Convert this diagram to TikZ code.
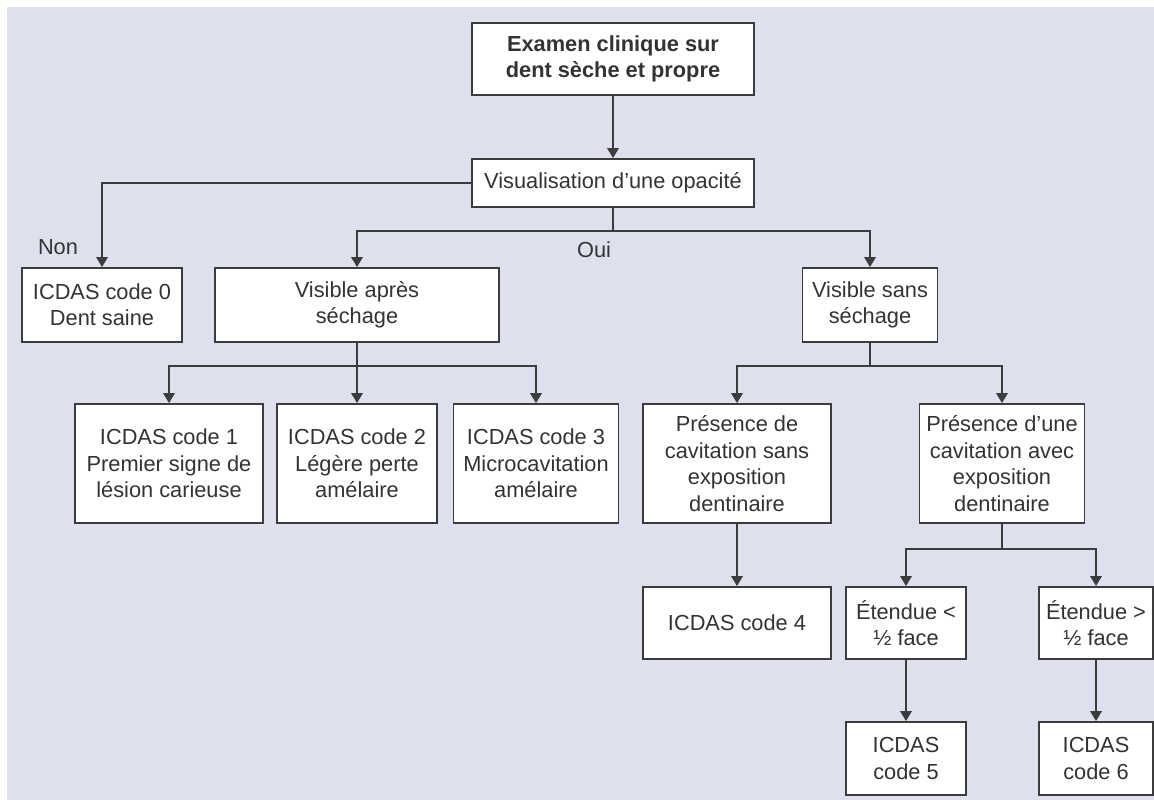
\documentclass[tikz,border=0pt]{standalone}
\usepackage{fontspec}
\setmainfont{Liberation Sans}
\usetikzlibrary{arrows.meta}
\definecolor{bgcol}{HTML}{DEE0ED}
\definecolor{linecol}{HTML}{3C3C3C}
\definecolor{txtcol}{HTML}{333333}

\begin{document}
\begin{tikzpicture}[line width=1.4pt, color=linecol,
  every node/.style={font=\fontsize{15.5}{18.8}\selectfont, text=txtcol},
  box/.style={draw=linecol, line width=1.3pt, fill=white, align=center, inner sep=1pt},
  arr/.style={-{Triangle[width=8pt,length=7pt]}}]
  \useasboundingbox (0,0) rectangle (28.85,20);
  \fill[bgcol] (0.175,0) rectangle (28.85,19.825);

  \node[box, font=\fontsize{15.5}{18.8}\selectfont\bfseries, minimum width=7.05cm, minimum height=1.8cm] (exam) at (15.325,18.525) {Examen clinique sur\\dent sèche et propre};
  \node[box, minimum width=7.05cm, minimum height=1.2cm] (opac) at (15.325,15.425) {Visualisation d’une opacité};
  \node[box, minimum width=4cm, minimum height=1.85cm] (c0) at (2.55,12.375) {ICDAS code 0\\Dent saine};
  \node[box, minimum width=7.1cm, minimum height=1.85cm] (apres) at (8.925,12.375) {Visible après\\séchage};
  \node[box, minimum width=3.375cm, minimum height=1.85cm] (sans) at (21.75,12.375) {Visible sans\\séchage};
  \node[box, minimum width=4.7cm, minimum height=2.975cm] (c1) at (4.225,8.4125) {ICDAS code 1\\Premier signe de\\lésion carieuse};
  \node[box, minimum width=4cm, minimum height=2.975cm] (c2) at (8.925,8.4125) {ICDAS code 2\\Légère perte\\amélaire};
  \node[box, minimum width=4.125cm, minimum height=2.975cm] (c3) at (13.4,8.4125) {ICDAS code 3\\Microcavitation\\amélaire};
  \node[box, minimum width=4.7cm, minimum height=2.975cm] (pde) at (18.425,8.4125) {Présence de\\cavitation sans\\exposition\\dentinaire};
  \node[box, minimum width=4.125cm, minimum height=2.975cm] (pdu) at (25.05,8.4125) {Présence d’une\\cavitation avec\\exposition\\dentinaire};
  \node[box, minimum width=4.7cm, minimum height=1.8cm] (c4) at (18.425,4.425) {ICDAS code 4};
  \node[box, minimum width=3cm, minimum height=1.8cm] (etl) at (22.65,4.425) {Étendue <\\½ face};
  \node[box, minimum width=2.85cm, minimum height=1.8cm] (etg) at (27.4,4.425) {Étendue >\\½ face};
  \node[box, minimum width=3cm, minimum height=1.825cm] (c5) at (22.65,1.0375) {ICDAS\\code 5};
  \node[box, minimum width=2.85cm, minimum height=1.825cm] (c6) at (27.4,1.0375) {ICDAS\\code 6};

  \node (non) at (1.45,13.825) {Non};
  \node (oui) at (14.85,13.75) {Oui};

  \coordinate (b1) at (15.325,14.225);
  \coordinate (b2) at (8.925,10.85);
  \coordinate (b3) at (21.75,10.85);
  \coordinate (b4) at (25.05,6.275);

  \draw[arr] (exam) -- (opac);
  \draw[arr] (opac.west) -| (c0.north);
  \draw (opac) -- (b1);
  \draw[arr] (b1) -| (apres.north);
  \draw[arr] (b1) -| (sans.north);
  \draw (apres) -- (b2);
  \draw[arr] (b2) -| (c1.north);
  \draw[arr] (b2) -- (c2);
  \draw[arr] (b2) -| (c3.north);
  \draw (sans) -- (b3);
  \draw[arr] (b3) -| (pde.north);
  \draw[arr] (b3) -| (pdu.north);
  \draw[arr] (pde) -- (c4);
  \draw (pdu) -- (b4);
  \draw[arr] (b4) -| (etl.north);
  \draw[arr] (b4) -| (etg.north);
  \draw[arr] (etl) -- (c5);
  \draw[arr] (etg) -- (c6);
\end{tikzpicture}
\end{document}
